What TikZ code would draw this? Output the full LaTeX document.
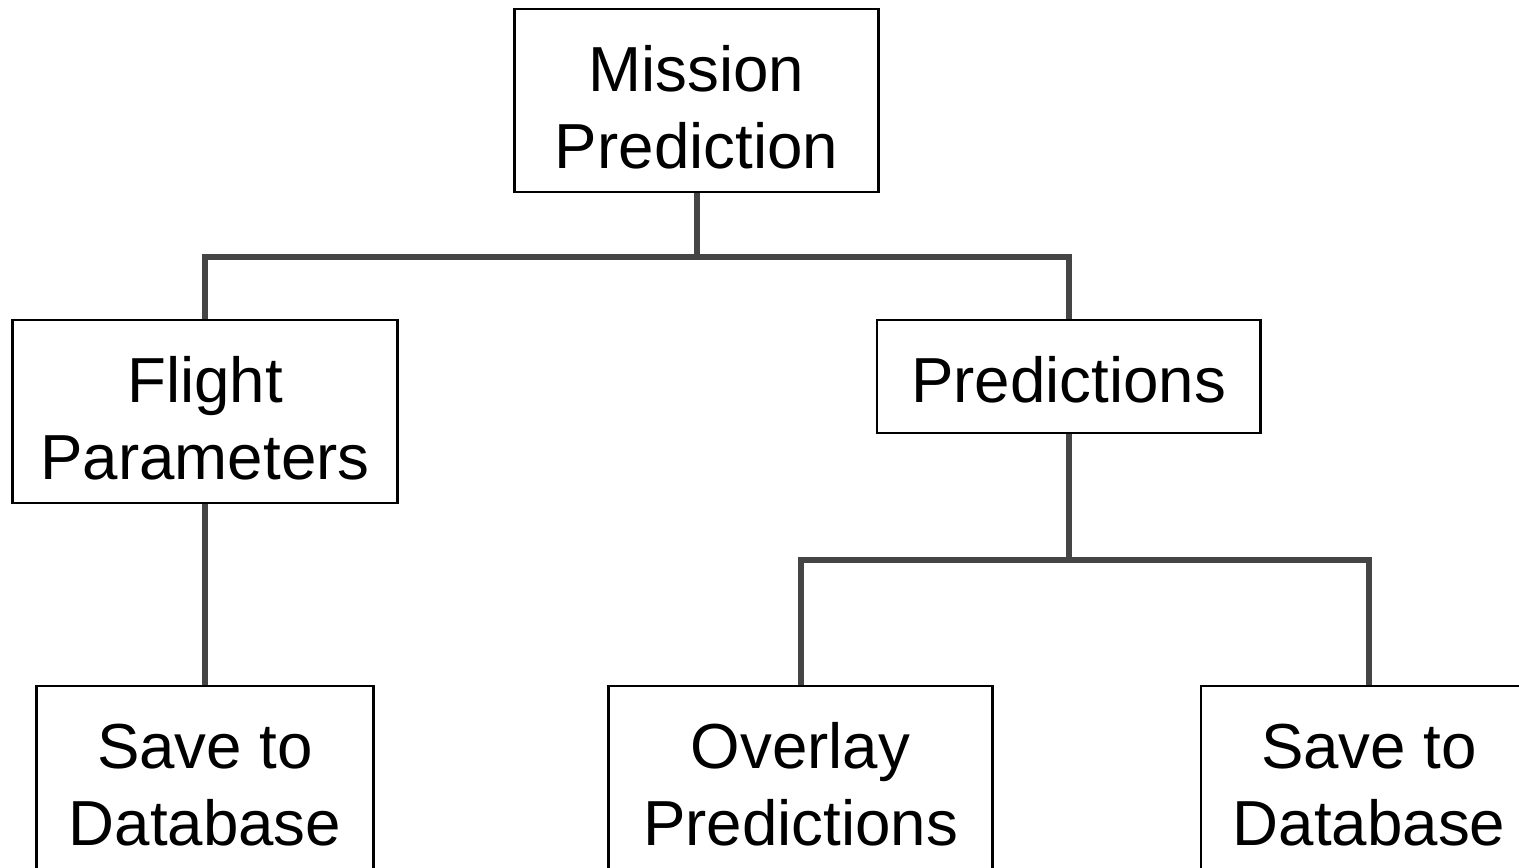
\documentclass[tikz,border=0pt]{standalone}
\usepackage{fontspec}
\setmainfont{Liberation Sans}
\usetikzlibrary{positioning}

% lowered block of centred lines
\newcommand{\boxlines}[2]{\raisebox{-#1}[\height][\depth]{\begin{tabular}{@{}c@{}}#2\end{tabular}}}

\tikzset{
    box/.style = {draw = black, line width = 0.8pt, inner sep = 0,
                  font = \fontsize{18.1pt}{21.8pt}\selectfont},
    link/.style = {draw = black!73, line width = 1.7pt}
}

\begin{document}
\begin{tikzpicture}[x = 0.01cm, y = -0.01cm]
    \useasboundingbox (0,0) rectangle (1519,868);

    \node [box, minimum width = 3.63cm, minimum height = 1.83cm] (mission) at (696.5,100.5) {\boxlines{4.1pt}{Mission\\Prediction}};
    \node [box, minimum width = 3.84cm, minimum height = 1.83cm] (flight)  at (205,411.5)   {\boxlines{4.1pt}{Flight\\Parameters}};
    \node [box, minimum width = 3.83cm, minimum height = 1.13cm] (pred)    at (1068.5,376.5) {\boxlines{3pt}{Predictions}};
    \node [box, minimum width = 3.36cm, minimum height = 1.83cm] (saveA)   at (205,777.5)   {\boxlines{4.1pt}{Save to\\Database}};
    \node [box, minimum width = 3.83cm, minimum height = 1.83cm] (overlay) at (800.5,777.5) {\boxlines{4.1pt}{Overlay\\Predictions}};
    \node [box, minimum width = 3.36cm, minimum height = 1.83cm] (saveB)   at (1369,777.5)  {\boxlines{4.1pt}{Save to\\Database}};

    \coordinate (busTop) at (696.5,257);
    \coordinate (busPred) at (1068.5,560);

    \draw [link] (mission.south) -- (busTop);
    \draw [link] (flight.north) |- (busTop) -| (pred.north);
    \draw [link] (flight.south) -- (saveA.north);
    \draw [link] (pred.south) -- (busPred);
    \draw [link] (overlay.north) |- (busPred) -| (saveB.north);
\end{tikzpicture}
\end{document}
